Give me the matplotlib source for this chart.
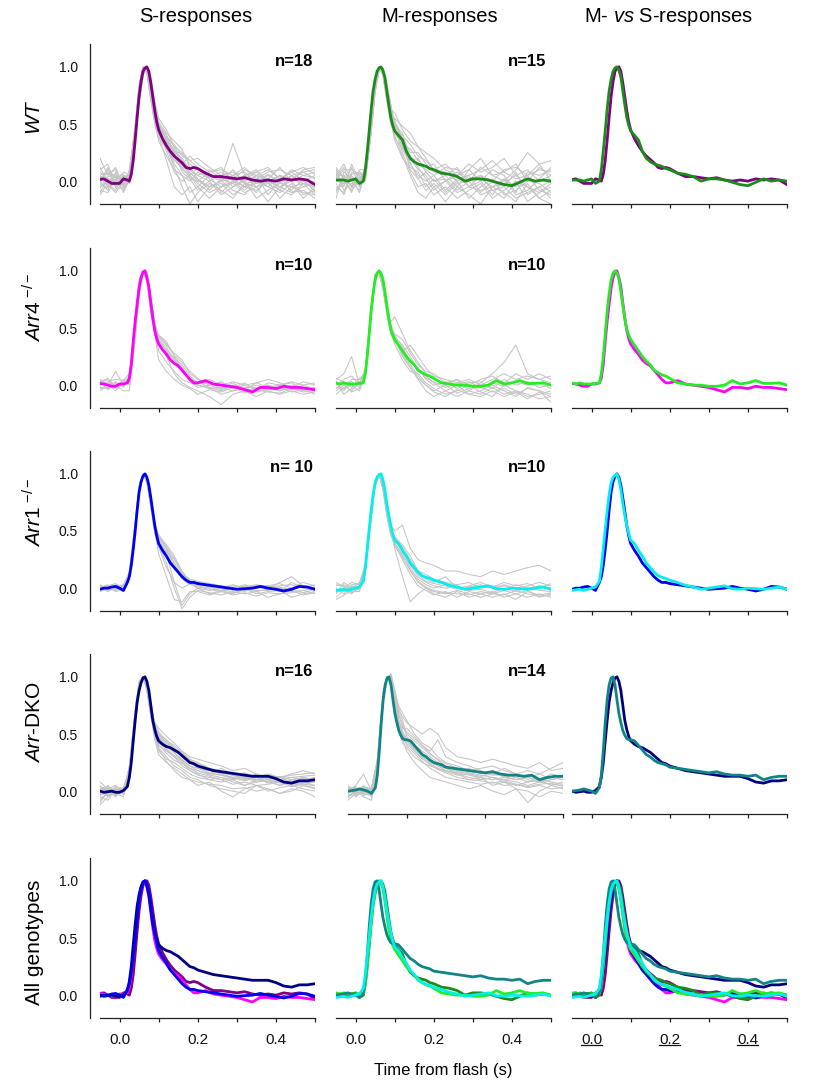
import matplotlib
matplotlib.use('Agg')
import matplotlib.pyplot as plt
from matplotlib.lines import Line2D
import numpy as np

plt.rcParams['font.family'] = ['Liberation Sans', 'DejaVu Sans']
plt.rcParams['mathtext.fontset'] = 'custom'
plt.rcParams['mathtext.rm'] = 'Liberation Sans'
plt.rcParams['mathtext.it'] = 'Liberation Sans:italic'
plt.rcParams['mathtext.bf'] = 'Liberation Sans:bold'

# ---------------- data ----------------
col_titles = ['S-responses', 'M-responses', 'M- $\\mathit{vs}$ S-responses']
row_labels = ['$\\mathit{WT}$', '$\\mathit{Arr4}^{\\ \\mathrm{-/-}}$', '$\\mathit{Arr1}^{\\ \\mathrm{-/-}}$',
              '$\\mathit{Arr}$-DKO', 'All genotypes']
n_labels_s = ['n=18', 'n=10', 'n= 10', 'n=16']
n_labels_m = ['n=15', 'n=10', 'n=10', 'n=14']
x_ticks = [0.0, 0.1, 0.2, 0.3, 0.4, 0.5]
x_ticklabels = ['0.0', '', '0.2', '', '0.4', '']
y_ticks = [0.0, 0.5, 1.0]
y_ticklabels = ['0.0', '0.5', '1.0']
x_label = 'Time from flash (s)'

t_mean = [-0.05, -0.04, -0.03, -0.02, -0.01, 0.0, 0.01, 0.02, 0.025, 0.03, 0.035, 0.04, 0.045, 0.05,
          0.055, 0.06, 0.065, 0.07, 0.075, 0.08, 0.085, 0.09, 0.095, 0.10, 0.11, 0.12, 0.13, 0.14,
          0.15, 0.16, 0.17, 0.18, 0.19, 0.20, 0.22, 0.24, 0.26, 0.28, 0.30, 0.32, 0.34, 0.36, 0.38,
          0.40, 0.42, 0.44, 0.46, 0.48, 0.50]

s_wt = [0.015, 0.02, 0.0, -0.02, -0.02, -0.02, 0.02, 0.01, 0.0, 0.06, 0.18, 0.36, 0.56, 0.74,
        0.87, 0.96, 0.99, 1.0, 0.96, 0.86, 0.74, 0.62, 0.52, 0.45, 0.37, 0.31, 0.26, 0.22,
        0.19, 0.16, 0.12, 0.11, 0.12, 0.11, 0.07, 0.04, 0.04, 0.03, 0.02, 0.03, 0.01, 0.0, 0.01,
        0.0, 0.02, 0.01, 0.02, 0.01, -0.03]
s_arr4 = [0.015, 0.01, 0.0, -0.01, -0.01, 0.01, 0.01, 0.02, 0.06, 0.18, 0.38, 0.56, 0.71, 0.85,
          0.94, 0.99, 1.0, 0.94, 0.86, 0.72, 0.59, 0.48, 0.41, 0.36, 0.31, 0.27, 0.22, 0.19,
          0.17, 0.13, 0.09, 0.05, 0.02, 0.02, 0.04, 0.01, 0.0, -0.01, -0.02, -0.04, -0.06, -0.02, -0.02,
          -0.03, -0.01, -0.02, -0.02, -0.03, -0.04]
s_arr1 = [-0.01, 0.0, 0.0, 0.01, 0.015, 0.0, -0.02, 0.05, 0.10, 0.20, 0.34, 0.50, 0.68, 0.84,
          0.93, 0.98, 1.0, 0.97, 0.90, 0.79, 0.67, 0.55, 0.46, 0.39, 0.33, 0.28, 0.22, 0.18,
          0.14, 0.10, 0.07, 0.05, 0.05, 0.04, 0.03, 0.02, 0.01, 0.0, -0.01, -0.005, 0.0, 0.015, 0.0,
          -0.01, -0.025, -0.01, 0.015, 0.01, -0.01]
s_dko = [0.0, -0.01, -0.005, 0.0, -0.01, -0.01, 0.005, 0.04, 0.12, 0.25, 0.44, 0.62, 0.78, 0.88,
         0.95, 0.99, 1.0, 0.96, 0.88, 0.75, 0.62, 0.54, 0.48, 0.44, 0.41, 0.39, 0.38, 0.36,
         0.34, 0.31, 0.28, 0.25, 0.24, 0.22, 0.20, 0.18, 0.17, 0.16, 0.15, 0.14, 0.13, 0.13, 0.13,
         0.11, 0.08, 0.07, 0.09, 0.09, 0.10]
m_wt = [0.01, 0.01, 0.01, 0.0, 0.01, 0.02, -0.02, 0.0, 0.10, 0.26, 0.44, 0.63, 0.79, 0.89,
        0.96, 0.99, 1.0, 0.97, 0.91, 0.79, 0.67, 0.56, 0.49, 0.44, 0.40, 0.36, 0.26, 0.20,
        0.17, 0.15, 0.14, 0.13, 0.11, 0.10, 0.07, 0.06, 0.04, 0.0, 0.02, 0.02, 0.01, -0.01, -0.03,
        -0.04, -0.01, 0.02, 0.0, 0.01, 0.0]
m_arr4 = [0.02, 0.01, 0.02, 0.01, 0.01, 0.01, 0.015, 0.02, 0.10, 0.25, 0.45, 0.65, 0.80, 0.92,
          0.98, 1.0, 0.98, 0.93, 0.82, 0.70, 0.58, 0.49, 0.44, 0.40, 0.35, 0.30, 0.25, 0.21,
          0.18, 0.13, 0.11, 0.09, 0.08, 0.06, 0.02, 0.01, 0.0, 0.0, -0.01, -0.01, 0.0, 0.04, 0.01,
          0.02, 0.04, 0.015, 0.015, 0.02, 0.0]
m_arr1 = [-0.02, -0.015, -0.01, -0.02, -0.01, 0.0, 0.01, 0.06, 0.18, 0.35, 0.52, 0.68, 0.82, 0.92,
          0.97, 0.99, 1.0, 0.95, 0.86, 0.74, 0.64, 0.55, 0.48, 0.42, 0.39, 0.33, 0.28, 0.22,
          0.18, 0.14, 0.11, 0.095, 0.085, 0.07, 0.05, 0.025, 0.01, -0.01, 0.0, 0.01, 0.02, -0.005, -0.01,
          0.0, -0.005, -0.01, 0.0, 0.01, -0.01]
m_dko = [0.0, 0.005, 0.01, 0.02, 0.01, 0.0, -0.02, 0.03, 0.14, 0.35, 0.60, 0.80, 0.93, 0.99,
         1.0, 0.93, 0.80, 0.68, 0.60, 0.53, 0.49, 0.46, 0.45, 0.45, 0.44, 0.40, 0.36, 0.32,
         0.30, 0.27, 0.25, 0.24, 0.23, 0.21, 0.20, 0.19, 0.18, 0.17, 0.16, 0.17, 0.15, 0.14, 0.14,
         0.13, 0.14, 0.10, 0.12, 0.13, 0.13]

t_gray = [-0.05, -0.03, -0.01, 0.01, 0.025, 0.04, 0.05, 0.06, 0.07, 0.08, 0.09, 0.10, 0.12, 0.14,
          0.16, 0.18, 0.20, 0.23, 0.26, 0.29, 0.32, 0.35, 0.38, 0.41, 0.44, 0.47, 0.50]

gray_s_wt = [
    [0.20, 0.05, 0.12, -0.05, 0.10, 0.45, 0.80, 0.98, 0.97, 0.75, 0.55, 0.45, 0.35, 0.25, 0.20, 0.10, 0.05, 0.00, 0.05, -0.05, 0.02, 0.08, -0.02, 0.05, 0.00, 0.10, 0.12],
    [0.05, -0.05, 0.00, 0.08, 0.05, 0.40, 0.75, 0.95, 1.00, 0.82, 0.60, 0.48, 0.40, 0.30, 0.25, 0.18, 0.12, 0.05, 0.02, 0.33, 0.05, -0.05, 0.02, -0.08, 0.05, -0.02, -0.05],
    [-0.08, -0.10, 0.02, -0.05, 0.00, 0.35, 0.70, 0.93, 0.99, 0.85, 0.65, 0.50, 0.30, 0.15, 0.05, -0.10, -0.05, 0.05, -0.10, 0.00, -0.05, 0.05, -0.12, 0.00, -0.08, 0.02, -0.10],
    [0.10, 0.15, -0.05, 0.00, 0.08, 0.50, 0.85, 1.00, 0.95, 0.70, 0.50, 0.38, 0.28, 0.20, 0.15, 0.22, 0.15, 0.08, 0.10, 0.05, 0.12, 0.02, 0.08, 0.10, 0.05, 0.08, 0.02],
    [-0.05, 0.00, 0.05, 0.02, 0.03, 0.38, 0.72, 0.94, 1.00, 0.88, 0.68, 0.52, 0.42, 0.35, 0.28, 0.12, 0.02, -0.08, 0.02, 0.05, -0.02, -0.10, 0.02, -0.05, 0.00, -0.12, -0.08],
    [0.02, 0.08, -0.02, 0.05, -0.02, 0.42, 0.78, 0.97, 0.98, 0.78, 0.58, 0.40, 0.18, -0.05, -0.12, -0.05, -0.18, -0.05, 0.00, -0.08, -0.12, 0.00, -0.05, -0.10, -0.02, -0.15, -0.05],
    [0.00, -0.08, 0.08, -0.02, 0.06, 0.48, 0.82, 0.99, 0.96, 0.76, 0.56, 0.46, 0.38, 0.32, 0.22, 0.18, 0.20, 0.12, 0.05, 0.08, 0.00, 0.05, 0.10, 0.02, 0.08, 0.00, 0.05],
    [-0.12, -0.02, -0.08, 0.05, 0.00, 0.33, 0.68, 0.92, 1.00, 0.90, 0.70, 0.55, 0.45, 0.30, 0.18, 0.08, 0.00, -0.05, -0.02, -0.12, -0.05, -0.08, 0.00, -0.15, -0.05, -0.02, -0.12],
    [0.08, 0.02, 0.00, -0.08, 0.04, 0.44, 0.80, 0.98, 0.97, 0.77, 0.52, 0.35, 0.22, 0.10, 0.05, 0.00, 0.08, 0.02, -0.05, 0.05, 0.08, -0.02, 0.05, 0.00, 0.10, 0.05, 0.08],
    [-0.02, 0.10, 0.03, 0.02, 0.02, 0.36, 0.70, 0.93, 1.00, 0.86, 0.66, 0.50, 0.36, 0.28, 0.15, 0.05, -0.02, -0.10, -0.05, 0.00, -0.08, 0.02, -0.05, 0.05, -0.10, -0.05, 0.00],
    [0.05, -0.03, -0.10, 0.00, 0.07, 0.46, 0.83, 1.00, 0.95, 0.72, 0.54, 0.44, 0.32, 0.24, 0.12, 0.10, 0.05, 0.10, 0.02, -0.02, 0.05, 0.10, 0.00, 0.05, 0.02, 0.08, 0.10],
    [-0.06, 0.04, 0.06, -0.10, 0.01, 0.40, 0.76, 0.96, 0.99, 0.80, 0.62, 0.48, 0.30, 0.12, -0.05, -0.20, -0.10, -0.02, -0.08, -0.15, -0.02, -0.05, -0.18, -0.05, -0.10, -0.08, -0.15],
    [0.12, 0.00, -0.04, 0.04, 0.05, 0.41, 0.77, 0.96, 0.98, 0.80, 0.60, 0.42, 0.34, 0.26, 0.24, 0.15, 0.10, 0.03, 0.08, 0.02, 0.10, 0.05, 0.02, 0.12, 0.00, 0.05, 0.03],
    [-0.03, -0.06, 0.02, 0.06, 0.00, 0.37, 0.73, 0.95, 1.00, 0.84, 0.64, 0.47, 0.26, 0.08, 0.00, 0.05, -0.05, -0.15, -0.05, -0.02, -0.10, -0.05, -0.02, -0.08, -0.12, -0.02, -0.05],
    [0.06, 0.06, 0.10, -0.03, 0.04, 0.43, 0.79, 0.98, 0.97, 0.78, 0.58, 0.43, 0.33, 0.20, 0.10, 0.05, 0.12, 0.05, 0.00, 0.10, -0.02, 0.00, 0.06, -0.02, 0.05, -0.05, -0.02],
    [-0.10, 0.02, -0.02, 0.01, -0.01, 0.34, 0.69, 0.92, 1.00, 0.88, 0.68, 0.50, 0.40, 0.25, 0.08, 0.02, -0.08, 0.00, -0.12, -0.05, 0.00, -0.15, -0.08, -0.02, -0.05, -0.10, -0.12],
    [0.03, -0.02, 0.04, 0.03, 0.06, 0.47, 0.84, 1.00, 0.94, 0.72, 0.52, 0.42, 0.28, 0.18, 0.12, 0.03, 0.00, 0.08, 0.12, 0.00, 0.05, 0.08, 0.12, 0.02, 0.08, 0.12, 0.06],
    [0.00, 0.12, -0.06, -0.06, 0.03, 0.39, 0.74, 0.95, 0.99, 0.82, 0.62, 0.49, 0.37, 0.22, 0.14, 0.07, 0.02, -0.05, 0.00, 0.02, -0.05, -0.02, 0.00, -0.05, 0.02, 0.00, -0.08],
]

gray_m_wt = [
    [0.10, -0.05, 0.15, 0.00, 0.12, 0.55, 0.88, 1.00, 0.92, 0.70, 0.62, 0.60, 0.45, 0.35, 0.30, 0.20, 0.10, 0.15, 0.05, 0.10, 0.20, 0.05, 0.00, 0.10, 0.25, 0.15, 0.18],
    [-0.10, 0.05, -0.05, 0.08, 0.05, 0.50, 0.85, 0.99, 0.95, 0.75, 0.55, 0.45, 0.30, 0.20, 0.10, 0.05, -0.05, 0.00, -0.10, -0.05, 0.05, -0.08, -0.15, 0.00, -0.05, -0.10, -0.02],
    [0.05, 0.15, 0.00, -0.08, 0.08, 0.48, 0.82, 0.98, 0.97, 0.80, 0.65, 0.52, 0.38, 0.25, 0.25, 0.15, 0.08, 0.05, 0.12, -0.05, 0.00, 0.10, 0.05, -0.10, 0.08, 0.05, 0.10],
    [-0.05, -0.10, 0.08, 0.05, 0.02, 0.45, 0.80, 0.97, 0.98, 0.82, 0.58, 0.40, 0.22, 0.05, -0.10, -0.15, -0.05, -0.18, -0.05, -0.12, -0.20, -0.05, -0.10, -0.18, -0.02, -0.15, -0.20],
    [0.12, 0.02, -0.10, 0.10, 0.10, 0.52, 0.86, 1.00, 0.93, 0.72, 0.60, 0.55, 0.48, 0.42, 0.30, 0.25, 0.20, 0.10, 0.05, 0.15, 0.08, 0.12, 0.20, 0.05, 0.10, 0.00, 0.05],
    [0.00, -0.02, 0.05, -0.05, 0.06, 0.47, 0.83, 0.99, 0.96, 0.78, 0.52, 0.38, 0.28, 0.15, 0.05, 0.00, 0.05, -0.08, 0.02, 0.05, -0.10, 0.00, -0.05, 0.08, -0.12, -0.05, 0.00],
    [-0.15, 0.08, 0.02, 0.02, 0.00, 0.42, 0.78, 0.96, 0.99, 0.85, 0.68, 0.50, 0.35, 0.10, 0.02, 0.08, 0.00, 0.05, -0.05, 0.10, 0.00, -0.12, 0.02, -0.05, 0.05, -0.08, -0.12],
    [0.08, -0.08, -0.02, -0.02, 0.09, 0.51, 0.85, 1.00, 0.94, 0.70, 0.50, 0.42, 0.32, 0.28, 0.18, 0.12, 0.15, 0.00, 0.08, 0.00, 0.12, 0.05, 0.08, 0.15, 0.00, 0.12, 0.05],
    [0.02, 0.10, 0.10, 0.06, 0.04, 0.46, 0.81, 0.98, 0.97, 0.79, 0.63, 0.48, 0.25, 0.08, -0.05, -0.02, -0.12, -0.05, -0.15, -0.08, -0.02, -0.15, -0.08, 0.00, -0.18, -0.10, -0.05],
    [-0.08, 0.00, -0.08, 0.00, 0.03, 0.44, 0.79, 0.97, 0.98, 0.81, 0.57, 0.47, 0.40, 0.32, 0.22, 0.18, 0.10, 0.08, 0.00, 0.05, 0.10, 0.18, 0.08, 0.02, 0.05, 0.10, 0.08],
    [0.05, 0.05, 0.03, -0.10, 0.07, 0.49, 0.84, 0.99, 0.95, 0.74, 0.54, 0.36, 0.20, 0.12, 0.08, -0.05, 0.02, -0.10, 0.00, -0.15, -0.05, 0.02, -0.12, -0.08, 0.00, -0.02, -0.10],
    [-0.02, -0.12, 0.06, 0.08, 0.01, 0.43, 0.78, 0.96, 0.99, 0.84, 0.66, 0.50, 0.42, 0.20, 0.15, 0.10, 0.05, 0.12, 0.10, 0.02, 0.05, 0.00, 0.10, 0.12, 0.05, 0.15, 0.00],
    [0.10, 0.04, -0.04, 0.03, 0.05, 0.48, 0.82, 0.98, 0.96, 0.76, 0.56, 0.44, 0.34, 0.22, 0.12, 0.02, -0.08, 0.00, 0.05, -0.05, -0.08, -0.05, 0.02, -0.12, -0.08, 0.02, 0.12],
    [-0.06, -0.04, 0.12, -0.04, 0.08, 0.50, 0.84, 0.99, 0.95, 0.73, 0.61, 0.53, 0.36, 0.18, 0.20, 0.08, 0.00, 0.02, -0.08, 0.00, 0.02, -0.05, -0.02, 0.05, -0.05, -0.15, -0.08],
    [0.03, 0.12, -0.06, 0.04, 0.02, 0.45, 0.80, 0.97, 0.97, 0.80, 0.59, 0.46, 0.30, 0.16, 0.02, -0.08, -0.02, -0.12, -0.02, 0.00, -0.12, -0.08, -0.05, -0.15, -0.10, -0.05, -0.15],
]

gray_s_arr4 = [
    [0.05, 0.00, 0.12, 0.00, 0.08, 0.55, 0.90, 1.00, 0.92, 0.65, 0.45, 0.38, 0.30, 0.20, 0.12, 0.05, 0.03, -0.02, -0.05, 0.00, -0.05, -0.03, 0.00, -0.05, -0.02, -0.05, -0.03],
    [0.02, 0.05, -0.03, 0.02, 0.04, 0.50, 0.86, 0.99, 0.95, 0.70, 0.50, 0.42, 0.35, 0.28, 0.22, 0.10, 0.05, 0.00, 0.02, -0.02, 0.02, -0.05, 0.02, 0.00, 0.03, 0.00, 0.02],
    [-0.03, -0.02, 0.00, -0.05, -0.05, 0.40, 0.78, 0.97, 0.99, 0.78, 0.55, 0.40, 0.25, 0.10, 0.02, -0.02, -0.05, -0.10, -0.17, -0.08, -0.05, -0.10, -0.05, -0.08, -0.05, -0.08, -0.06],
    [0.00, 0.03, 0.05, 0.04, 0.10, 0.58, 0.92, 1.00, 0.90, 0.62, 0.44, 0.36, 0.28, 0.24, 0.18, 0.08, 0.02, 0.05, 0.00, 0.03, 0.00, 0.02, 0.05, 0.02, -0.02, 0.03, 0.00],
    [0.04, -0.04, 0.02, 0.00, 0.02, 0.45, 0.82, 0.98, 0.97, 0.75, 0.52, 0.44, 0.38, 0.25, 0.15, 0.04, 0.00, -0.03, -0.02, -0.05, -0.03, 0.00, -0.03, -0.05, 0.00, -0.02, -0.05],
    [-0.05, 0.01, -0.05, 0.02, 0.05, 0.48, 0.84, 0.99, 0.96, 0.72, 0.46, 0.30, 0.20, 0.12, 0.05, 0.02, 0.00, -0.02, -0.08, -0.05, -0.02, -0.06, -0.04, -0.02, -0.06, -0.04, -0.08],
    [0.01, 0.00, 0.03, -0.02, 0.06, 0.52, 0.88, 1.00, 0.94, 0.68, 0.48, 0.40, 0.33, 0.22, 0.16, 0.06, 0.02, 0.02, -0.03, 0.02, -0.04, 0.02, -0.02, 0.00, 0.02, -0.04, -0.02],
    [0.03, 0.06, -0.02, 0.05, 0.00, 0.42, 0.80, 0.97, 0.98, 0.76, 0.54, 0.43, 0.36, 0.26, 0.20, 0.12, 0.06, 0.00, 0.03, -0.03, 0.00, -0.04, 0.00, -0.03, -0.04, 0.00, -0.04],
    [-0.02, -0.03, 0.01, 0.01, 0.03, 0.47, 0.83, 0.98, 0.96, 0.74, 0.45, 0.22, 0.12, 0.05, 0.00, -0.03, -0.08, -0.04, -0.06, -0.02, -0.07, -0.04, -0.06, -0.07, -0.03, -0.06, -0.05],
    [0.00, 0.02, -0.01, 0.03, 0.07, 0.53, 0.87, 0.99, 0.93, 0.66, 0.47, 0.39, 0.31, 0.23, 0.14, 0.03, -0.02, 0.00, -0.04, 0.00, -0.02, -0.02, -0.04, 0.01, -0.04, -0.03, -0.03],
]

gray_m_arr4 = [
    [0.05, 0.10, 0.25, 0.00, 0.15, 0.70, 0.97, 0.98, 0.85, 0.65, 0.55, 0.60, 0.45, 0.30, 0.20, 0.10, 0.05, 0.00, 0.05, -0.05, 0.02, 0.10, 0.20, 0.35, 0.10, 0.05, 0.02],
    [-0.05, 0.00, -0.05, 0.02, 0.10, 0.65, 0.95, 1.00, 0.88, 0.68, 0.50, 0.42, 0.35, 0.25, 0.12, 0.08, 0.02, -0.05, 0.00, -0.08, -0.05, 0.00, -0.05, -0.10, -0.02, -0.05, -0.15],
    [0.02, -0.05, 0.05, 0.05, 0.12, 0.68, 0.96, 0.99, 0.86, 0.62, 0.45, 0.38, 0.30, 0.35, 0.25, 0.15, 0.08, 0.05, 0.02, 0.05, 0.00, 0.05, 0.10, 0.05, 0.08, 0.05, 0.08],
    [-0.08, -0.02, 0.00, -0.05, 0.08, 0.62, 0.93, 1.00, 0.90, 0.70, 0.52, 0.40, 0.25, 0.15, 0.05, -0.05, -0.10, -0.05, -0.10, -0.05, -0.08, -0.02, -0.08, -0.05, -0.10, -0.08, -0.05],
    [0.00, 0.05, 0.08, 0.00, 0.11, 0.66, 0.96, 0.99, 0.87, 0.66, 0.48, 0.45, 0.40, 0.28, 0.18, 0.12, 0.10, 0.02, 0.05, 0.00, 0.05, 0.08, 0.02, 0.10, 0.05, 0.10, 0.05],
    [0.03, -0.08, -0.03, 0.03, 0.09, 0.64, 0.94, 1.00, 0.89, 0.67, 0.46, 0.36, 0.22, 0.12, 0.10, 0.02, -0.03, -0.08, -0.05, 0.00, -0.06, -0.10, 0.00, -0.05, -0.08, -0.12, -0.10],
    [-0.03, 0.02, 0.03, -0.02, 0.13, 0.69, 0.97, 0.98, 0.84, 0.63, 0.51, 0.44, 0.33, 0.20, 0.15, 0.05, 0.00, 0.03, -0.03, 0.02, 0.03, -0.03, 0.05, 0.00, 0.03, -0.02, 0.00],
    [0.06, 0.03, -0.02, 0.06, 0.07, 0.61, 0.92, 1.00, 0.91, 0.71, 0.53, 0.41, 0.28, 0.18, 0.08, 0.00, -0.05, 0.00, -0.07, -0.03, -0.02, -0.06, -0.03, -0.08, -0.03, -0.05, -0.08],
    [-0.02, -0.03, 0.01, 0.01, 0.10, 0.63, 0.94, 0.99, 0.88, 0.69, 0.49, 0.39, 0.32, 0.22, 0.14, 0.06, 0.03, -0.02, 0.01, 0.03, -0.02, 0.02, -0.01, 0.03, 0.00, 0.02, -0.03],
    [0.01, 0.01, -0.06, -0.03, 0.08, 0.60, 0.91, 1.00, 0.92, 0.72, 0.54, 0.43, 0.26, 0.16, 0.06, 0.00, -0.06, -0.10, -0.04, -0.08, -0.10, -0.05, -0.10, -0.06, -0.12, -0.06, -0.10],
]

gray_s_arr1 = [
    [0.02, 0.00, 0.03, 0.00, 0.12, 0.55, 0.88, 1.00, 0.94, 0.72, 0.52, 0.45, 0.35, 0.22, 0.10, 0.05, 0.05, 0.02, 0.00, 0.03, 0.00, 0.02, 0.00, 0.05, 0.10, 0.02, 0.00],
    [-0.02, 0.02, 0.00, -0.03, 0.10, 0.52, 0.86, 0.99, 0.96, 0.75, 0.55, 0.42, 0.30, 0.05, -0.15, -0.05, 0.00, -0.05, -0.02, -0.05, 0.00, -0.05, -0.03, -0.02, -0.08, -0.05, -0.03],
    [0.03, -0.02, 0.02, 0.02, 0.14, 0.58, 0.90, 1.00, 0.92, 0.70, 0.50, 0.40, 0.32, 0.25, 0.12, 0.08, 0.06, 0.04, 0.02, 0.00, 0.03, 0.00, 0.02, 0.04, 0.00, 0.05, 0.02],
    [0.00, 0.03, -0.02, 0.01, 0.09, 0.50, 0.84, 0.98, 0.97, 0.78, 0.55, 0.38, 0.22, 0.00, -0.18, -0.08, -0.02, -0.04, -0.06, -0.03, -0.05, -0.03, -0.08, -0.05, -0.04, -0.02, -0.05],
    [-0.03, 0.00, 0.02, -0.02, 0.11, 0.54, 0.87, 0.99, 0.95, 0.74, 0.54, 0.46, 0.38, 0.28, 0.15, 0.06, 0.02, 0.00, 0.02, -0.02, 0.02, 0.00, 0.00, -0.03, 0.05, 0.00, 0.03],
    [0.01, -0.03, 0.01, 0.03, 0.13, 0.57, 0.89, 1.00, 0.93, 0.71, 0.48, 0.36, 0.18, 0.05, 0.00, 0.04, 0.00, -0.02, 0.00, -0.04, -0.02, -0.03, -0.01, 0.00, -0.02, -0.04, -0.01],
    [0.02, 0.01, -0.03, -0.01, 0.08, 0.49, 0.83, 0.98, 0.98, 0.80, 0.58, 0.44, 0.34, 0.20, 0.08, 0.03, 0.03, 0.01, -0.02, 0.01, -0.03, 0.02, 0.02, 0.00, -0.01, 0.01, -0.02],
    [-0.01, 0.02, 0.04, 0.00, 0.10, 0.53, 0.86, 0.99, 0.95, 0.76, 0.50, 0.30, 0.10, -0.10, -0.12, -0.03, -0.03, -0.06, -0.03, -0.06, -0.04, -0.07, -0.04, -0.05, -0.02, -0.06, -0.04],
    [0.00, -0.01, 0.00, 0.02, 0.12, 0.56, 0.88, 1.00, 0.93, 0.73, 0.53, 0.42, 0.31, 0.18, 0.11, 0.07, 0.04, 0.03, 0.01, 0.02, 0.01, 0.03, 0.01, 0.02, 0.03, 0.00, 0.01],
    [0.01, 0.01, -0.01, -0.02, 0.09, 0.51, 0.85, 0.99, 0.96, 0.77, 0.56, 0.47, 0.36, 0.26, 0.14, 0.05, 0.01, -0.01, -0.03, 0.00, -0.01, -0.02, -0.02, 0.01, -0.03, -0.02, 0.00],
]

gray_m_arr1 = [
    [-0.05, 0.05, 0.00, 0.05, 0.18, 0.65, 0.92, 1.00, 0.90, 0.70, 0.55, 0.50, 0.55, 0.35, 0.25, 0.22, 0.20, 0.15, 0.15, 0.12, 0.10, 0.15, 0.12, 0.15, 0.18, 0.20, 0.15],
    [0.00, -0.05, 0.02, 0.00, 0.15, 0.62, 0.90, 0.99, 0.92, 0.72, 0.50, 0.35, 0.10, -0.12, -0.05, 0.00, -0.05, -0.08, -0.03, -0.08, -0.05, -0.03, -0.08, -0.05, -0.02, -0.08, -0.05],
    [-0.08, -0.02, -0.05, 0.02, 0.20, 0.66, 0.93, 1.00, 0.88, 0.66, 0.48, 0.42, 0.32, 0.22, 0.10, 0.05, 0.02, 0.00, 0.02, -0.02, 0.02, 0.00, 0.03, 0.00, 0.02, 0.05, 0.02],
    [0.02, 0.03, -0.03, -0.03, 0.16, 0.63, 0.91, 0.99, 0.91, 0.71, 0.52, 0.40, 0.28, 0.15, 0.05, 0.00, -0.03, -0.05, -0.02, -0.05, -0.08, -0.05, -0.02, -0.05, -0.08, -0.05, -0.08],
    [-0.03, 0.00, 0.05, 0.03, 0.19, 0.67, 0.94, 1.00, 0.87, 0.65, 0.47, 0.45, 0.38, 0.28, 0.15, 0.12, 0.08, 0.05, 0.03, 0.05, 0.00, 0.02, -0.02, 0.03, 0.00, 0.02, 0.00],
    [-0.10, -0.06, -0.02, 0.01, 0.17, 0.64, 0.92, 1.00, 0.89, 0.68, 0.51, 0.38, 0.25, 0.12, 0.02, -0.02, -0.06, -0.03, -0.08, -0.03, -0.05, -0.08, -0.05, -0.10, -0.03, -0.06, -0.04],
    [0.03, 0.02, 0.00, -0.01, 0.14, 0.61, 0.89, 0.98, 0.93, 0.74, 0.54, 0.43, 0.34, 0.20, 0.12, 0.06, 0.04, 0.02, -0.01, 0.01, 0.03, 0.00, 0.02, 0.00, -0.01, 0.02, -0.01],
    [-0.02, -0.03, 0.03, 0.04, 0.21, 0.68, 0.94, 1.00, 0.86, 0.63, 0.46, 0.39, 0.30, 0.18, 0.08, 0.03, 0.00, 0.03, 0.00, -0.02, -0.01, -0.04, 0.00, -0.03, 0.01, -0.02, -0.03],
    [0.05, 0.01, -0.04, 0.00, 0.15, 0.62, 0.90, 0.99, 0.92, 0.73, 0.53, 0.44, 0.36, 0.25, 0.14, 0.08, 0.05, 0.10, 0.00, 0.02, 0.05, 0.01, 0.05, 0.02, 0.04, 0.00, 0.04],
    [-0.04, -0.01, 0.01, 0.02, 0.17, 0.64, 0.92, 1.00, 0.89, 0.69, 0.49, 0.37, 0.27, 0.16, 0.06, 0.01, -0.02, -0.04, -0.05, -0.06, -0.03, -0.05, -0.06, -0.02, -0.05, -0.07, -0.06],
]

gray_s_dko = [
    [0.05, -0.05, 0.00, 0.00, 0.20, 0.70, 0.95, 1.00, 0.90, 0.68, 0.55, 0.50, 0.45, 0.38, 0.30, 0.28, 0.25, 0.20, 0.18, 0.15, 0.12, 0.15, 0.10, 0.12, 0.15, 0.18, 0.15],
    [-0.10, 0.00, -0.05, 0.03, 0.15, 0.62, 0.90, 0.99, 0.93, 0.72, 0.50, 0.40, 0.35, 0.30, 0.25, 0.18, 0.15, 0.10, 0.08, 0.10, 0.05, 0.08, 0.10, 0.05, 0.08, 0.05, 0.03],
    [0.00, 0.05, -0.02, -0.05, 0.18, 0.66, 0.93, 1.00, 0.91, 0.75, 0.60, 0.55, 0.48, 0.42, 0.35, 0.30, 0.28, 0.25, 0.22, 0.18, 0.20, 0.15, 0.12, 0.10, 0.12, 0.10, 0.12],
    [-0.05, -0.08, 0.02, 0.00, 0.12, 0.58, 0.87, 0.98, 0.95, 0.78, 0.55, 0.38, 0.30, 0.22, 0.18, 0.12, 0.10, 0.05, 0.02, 0.00, -0.02, 0.05, 0.02, -0.02, 0.00, 0.05, 0.02],
    [0.08, 0.02, 0.05, -0.02, 0.22, 0.72, 0.96, 1.00, 0.88, 0.65, 0.52, 0.48, 0.40, 0.35, 0.32, 0.25, 0.20, 0.18, 0.15, 0.12, 0.15, 0.10, 0.12, 0.08, 0.10, 0.12, 0.10],
    [-0.02, 0.03, -0.04, 0.02, 0.16, 0.64, 0.92, 1.00, 0.92, 0.70, 0.48, 0.35, 0.28, 0.25, 0.20, 0.15, 0.12, 0.10, 0.12, 0.08, 0.05, 0.10, 0.08, 0.05, 0.10, 0.08, 0.05],
    [-0.12, -0.05, 0.00, 0.01, 0.14, 0.60, 0.89, 0.99, 0.94, 0.76, 0.58, 0.52, 0.44, 0.40, 0.34, 0.28, 0.22, 0.15, 0.20, 0.15, 0.12, 0.10, 0.14, 0.12, 0.08, 0.12, 0.08],
    [0.03, 0.00, 0.03, -0.03, 0.19, 0.68, 0.94, 1.00, 0.89, 0.67, 0.45, 0.32, 0.25, 0.20, 0.15, 0.10, 0.05, 0.08, 0.00, -0.05, 0.02, 0.05, 0.00, 0.03, 0.05, 0.02, 0.00],
    [-0.03, -0.02, 0.01, 0.03, 0.17, 0.65, 0.93, 1.00, 0.91, 0.72, 0.56, 0.47, 0.40, 0.33, 0.28, 0.22, 0.20, 0.16, 0.14, 0.12, 0.10, 0.12, 0.08, 0.10, 0.06, 0.08, 0.10],
    [0.02, 0.04, -0.03, -0.01, 0.13, 0.59, 0.88, 0.98, 0.94, 0.77, 0.60, 0.50, 0.42, 0.36, 0.30, 0.26, 0.24, 0.20, 0.16, 0.14, 0.16, 0.12, 0.15, 0.12, 0.14, 0.15, 0.16],
    [-0.06, -0.03, 0.04, 0.02, 0.20, 0.69, 0.95, 1.00, 0.89, 0.66, 0.50, 0.43, 0.36, 0.30, 0.22, 0.18, 0.14, 0.12, 0.10, 0.06, 0.08, 0.05, 0.06, 0.08, 0.04, 0.06, 0.05],
    [0.01, 0.02, -0.01, 0.00, 0.15, 0.63, 0.91, 0.99, 0.92, 0.73, 0.54, 0.46, 0.39, 0.34, 0.26, 0.20, 0.18, 0.14, 0.12, 0.10, 0.12, 0.08, 0.10, 0.07, 0.10, 0.09, 0.12],
    [-0.04, 0.01, 0.02, -0.02, 0.17, 0.66, 0.93, 1.00, 0.90, 0.69, 0.51, 0.41, 0.33, 0.27, 0.24, 0.20, 0.16, 0.13, 0.10, 0.12, 0.09, 0.12, 0.07, 0.09, 0.05, 0.07, 0.08],
    [0.00, -0.04, 0.00, 0.01, 0.14, 0.61, 0.89, 0.99, 0.93, 0.75, 0.57, 0.49, 0.43, 0.38, 0.33, 0.26, 0.22, 0.18, 0.16, 0.14, 0.11, 0.14, 0.12, 0.10, 0.12, 0.13, 0.14],
    [0.04, 0.01, -0.02, 0.03, 0.18, 0.67, 0.94, 1.00, 0.90, 0.70, 0.53, 0.44, 0.37, 0.31, 0.27, 0.22, 0.18, 0.15, 0.14, 0.11, 0.13, 0.10, 0.11, 0.13, 0.10, 0.11, 0.09],
    [-0.08, -0.01, 0.01, -0.01, 0.16, 0.63, 0.91, 0.99, 0.92, 0.71, 0.49, 0.37, 0.26, 0.18, 0.12, 0.10, 0.08, 0.06, 0.05, 0.02, 0.03, 0.00, 0.02, -0.02, 0.02, 0.00, -0.05],
]

gray_m_dko = [
    [0.00, 0.05, 0.15, 0.00, 0.25, 0.85, 1.00, 0.95, 0.75, 0.60, 0.55, 0.55, 0.48, 0.40, 0.35, 0.45, 0.30, 0.25, 0.22, 0.18, 0.15, 0.20, 0.15, 0.12, 0.10, 0.15, 0.12],
    [-0.05, 0.00, -0.05, -0.08, 0.20, 0.80, 0.98, 1.00, 0.85, 0.70, 0.65, 0.60, 0.55, 0.50, 0.55, 0.50, 0.38, 0.30, 0.28, 0.25, 0.28, 0.25, 0.22, 0.20, 0.25, 0.18, 0.20],
    [0.05, -0.05, 0.02, 0.02, 0.28, 0.88, 1.00, 0.92, 0.70, 0.52, 0.42, 0.38, 0.30, 0.25, 0.22, 0.20, 0.18, 0.15, 0.12, 0.10, 0.12, 0.08, 0.05, 0.08, 0.10, 0.05, 0.08],
    [-0.08, -0.02, 0.05, -0.05, 0.18, 0.78, 0.97, 1.03, 0.88, 0.72, 0.62, 0.48, 0.40, 0.35, 0.30, 0.25, 0.22, 0.18, 0.20, 0.15, 0.18, 0.12, 0.15, 0.10, 0.08, 0.12, 0.10],
    [0.02, 0.03, -0.03, 0.03, 0.26, 0.86, 1.00, 0.94, 0.72, 0.55, 0.48, 0.45, 0.40, 0.32, 0.28, 0.22, 0.20, 0.15, 0.10, 0.12, 0.05, 0.08, 0.02, -0.10, 0.00, 0.05, 0.02],
    [-0.02, 0.01, 0.00, -0.02, 0.22, 0.82, 0.99, 0.97, 0.80, 0.62, 0.52, 0.46, 0.38, 0.30, 0.25, 0.22, 0.18, 0.16, 0.14, 0.12, 0.10, 0.12, 0.10, 0.12, 0.08, 0.10, 0.13],
    [0.03, -0.03, 0.02, 0.01, 0.24, 0.84, 1.00, 0.95, 0.76, 0.58, 0.45, 0.35, 0.25, 0.18, 0.12, 0.10, 0.08, 0.05, 0.02, 0.05, 0.00, -0.03, 0.02, 0.00, -0.05, 0.00, -0.02],
    [-0.06, 0.02, -0.02, -0.04, 0.19, 0.79, 0.97, 1.01, 0.86, 0.74, 0.68, 0.62, 0.50, 0.42, 0.38, 0.30, 0.25, 0.22, 0.18, 0.20, 0.22, 0.18, 0.15, 0.18, 0.15, 0.20, 0.25],
    [0.01, 0.00, 0.04, 0.02, 0.27, 0.87, 1.00, 0.93, 0.73, 0.56, 0.46, 0.42, 0.35, 0.28, 0.24, 0.20, 0.17, 0.14, 0.15, 0.10, 0.12, 0.10, 0.08, 0.05, 0.08, 0.06, 0.05],
    [-0.03, -0.04, -0.01, 0.00, 0.21, 0.81, 0.98, 0.98, 0.82, 0.66, 0.56, 0.50, 0.44, 0.38, 0.32, 0.28, 0.24, 0.20, 0.17, 0.16, 0.14, 0.15, 0.12, 0.14, 0.11, 0.12, 0.14],
    [0.04, 0.02, 0.01, -0.01, 0.23, 0.83, 0.99, 0.96, 0.78, 0.60, 0.50, 0.40, 0.33, 0.26, 0.20, 0.16, 0.12, 0.10, 0.08, 0.06, 0.08, 0.05, 0.06, 0.03, 0.05, 0.02, 0.03],
    [-0.01, 0.04, -0.04, 0.01, 0.25, 0.85, 1.00, 0.94, 0.74, 0.57, 0.49, 0.44, 0.37, 0.32, 0.27, 0.23, 0.20, 0.17, 0.15, 0.13, 0.15, 0.13, 0.10, 0.12, 0.15, 0.10, 0.12],
    [-0.04, -0.01, 0.03, 0.02, 0.20, 0.80, 0.98, 0.99, 0.84, 0.68, 0.58, 0.52, 0.46, 0.40, 0.33, 0.27, 0.22, 0.18, 0.16, 0.14, 0.12, 0.10, 0.12, 0.08, 0.10, 0.08, 0.06],
    [0.02, -0.02, 0.00, -0.03, 0.22, 0.82, 0.99, 0.97, 0.79, 0.61, 0.51, 0.45, 0.36, 0.29, 0.23, 0.19, 0.16, 0.12, 0.10, 0.09, 0.07, 0.09, 0.06, 0.04, 0.06, 0.07, 0.04],
]

# colours
c_s = ['#800080', '#ff00ff', '#0000f0', '#000080']      # WT, Arr4, Arr1, DKO (S)
c_m = ['#1a8c1a', '#22ee22', '#00f0f0', '#108585']      # WT, Arr4, Arr1, DKO (M)
s_means = [s_wt, s_arr4, s_arr1, s_dko]
m_means = [m_wt, m_arr4, m_arr1, m_dko]
s_grays = [gray_s_wt, gray_s_arr4, gray_s_arr1, gray_s_dko]
m_grays = [gray_m_wt, gray_m_arr4, gray_m_arr1, gray_m_dko]

# ---------------- layout ----------------
W, H = 816, 1084
fig = plt.figure(figsize=(W / 100, H / 100), dpi=100)
col_left = [100, 336, 572]
row_top = [44, 248, 451, 654, 858]
AX_W, AX_H = 215, 160
AXC = '#222222'
GRAY = '#c4c4c4'
LW_MEAN = 2.0
LW_GRAY = 0.75


def make_ax(left, top, col, bottom_row):
    ax = fig.add_axes([left / W, 1 - (top + AX_H) / H, AX_W / W, AX_H / H])
    ax.set_xlim(-0.05, 0.5)
    ax.set_ylim(-0.2, 1.2)
    ax.patch.set_alpha(0)
    for s in ['top', 'right']:
        ax.spines[s].set_visible(False)
    ax.spines['bottom'].set_linewidth(0.9)
    ax.spines['bottom'].set_color(AXC)
    ax.set_xticks(x_ticks)
    ax.tick_params(axis='x', direction='out', length=3, width=0.9, color=AXC, pad=7.5,
                   labelsize=11, labelcolor='#111111')
    if bottom_row:
        ax.set_xticklabels(x_ticklabels)
    else:
        ax.set_xticklabels([])
    if col == 0:
        ax.spines['left'].set_position(('outward', 7.2))
        ax.spines['left'].set_linewidth(0.9)
        ax.spines['left'].set_color(AXC)
        ax.set_yticks(y_ticks)
        ax.set_yticklabels(y_ticklabels)
        ax.tick_params(axis='y', length=0, pad=8.5, labelsize=10, labelcolor='#111111')
    else:
        ax.spines['left'].set_visible(False)
        ax.set_yticks([])
    return ax


for r in range(4):
    # S responses
    ax = make_ax(col_left[0], row_top[r], 0, False)
    for g in s_grays[r]:
        ax.plot(t_gray, g, color=GRAY, lw=LW_GRAY)
    ax.plot(t_mean, s_means[r], color=c_s[r], lw=LW_MEAN)
    # M responses (DKO panel sits slightly to the right in the original)
    left_m = col_left[1] + (12 if r == 3 else 0)
    ax = make_ax(left_m, row_top[r], 1, False)
    for g in m_grays[r]:
        ax.plot(t_gray, g, color=GRAY, lw=LW_GRAY)
    ax.plot(t_mean, m_means[r], color=c_m[r], lw=LW_MEAN)
    # M vs S
    ax = make_ax(col_left[2], row_top[r], 2, False)
    ax.plot(t_mean, s_means[r], color=c_s[r], lw=LW_MEAN)
    ax.plot(t_mean, m_means[r], color=c_m[r], lw=LW_MEAN)
    # n labels
    ytxt = 1 - (row_top[r] + 17) / H
    fig.text(313 / W, ytxt, n_labels_s[r], ha='right', va='center', fontsize=12, fontweight='bold')
    fig.text(546 / W, ytxt, n_labels_m[r], ha='right', va='center', fontsize=12, fontweight='bold')

# bottom row: all genotypes
order = [0, 1, 3, 2]
ax = make_ax(col_left[0], row_top[4], 0, True)
for i in order:
    ax.plot(t_mean, s_means[i], color=c_s[i], lw=LW_MEAN)
ax = make_ax(col_left[1], row_top[4], 1, True)
for i in order:
    ax.plot(t_mean, m_means[i], color=c_m[i], lw=LW_MEAN)
ax3 = make_ax(col_left[2], row_top[4], 2, True)
for i in order:
    ax3.plot(t_mean, s_means[i], color=c_s[i], lw=LW_MEAN)
for i in order:
    ax3.plot(t_mean, m_means[i], color=c_m[i], lw=LW_MEAN)

# column titles
for x_c, title in zip([196, 440, 669], col_titles):
    fig.text(x_c / W, 1 - 17 / H, title, ha='center', va='center', fontsize=14.5)

# row labels
for y_c, lab in zip([117, 307, 512, 722, 942], row_labels):
    fig.text(34 / W, 1 - y_c / H, lab, ha='center', va='center', rotation=90, fontsize=15)

# x label
fig.text(443 / W, 1 - 1070 / H, x_label, ha='center', va='center', fontsize=12)

# underline tick labels in the last panel
fig.canvas.draw()
for lab in ax3.get_xticklabels():
    if lab.get_text():
        bb = lab.get_window_extent()
        yline = (bb.y0 + 1.5) / H
        fig.add_artist(Line2D([bb.x0 / W, bb.x1 / W], [yline, yline], transform=fig.transFigure,
                              lw=0.9, color='#111111'))

fig.savefig('out.png', dpi=100)
